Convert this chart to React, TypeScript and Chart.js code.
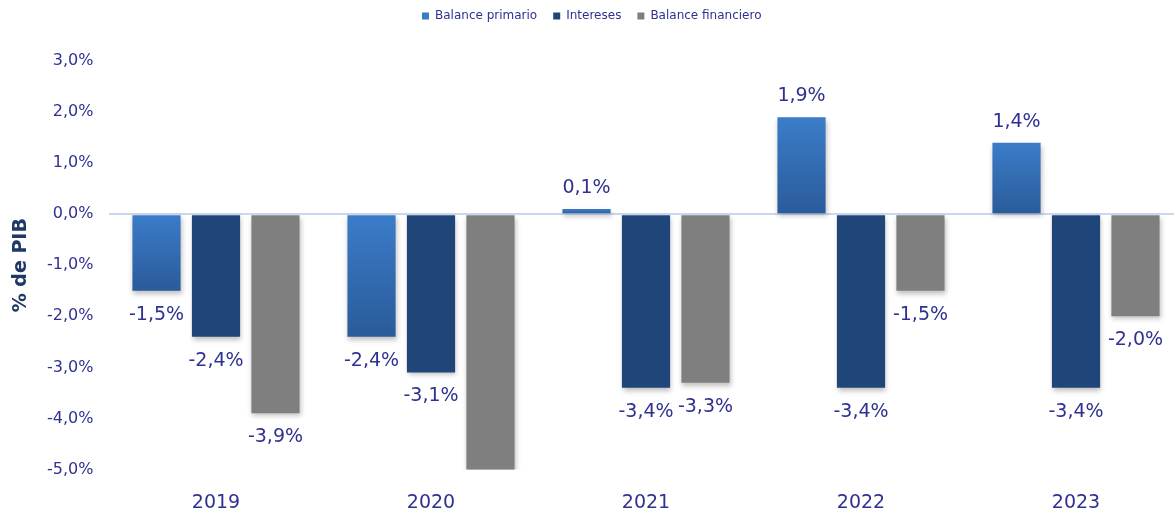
import React, { useEffect, useRef } from "react";
import { Chart, registerables } from "chart.js";

Chart.register(...registerables);

const categories = ["2019", "2020", "2021", "2022", "2023"];
const balancePrimario = [-1.5, -2.4, 0.1, 1.9, 1.4];
const intereses = [-2.4, -3.1, -3.4, -3.4, -3.4];
const balanceFinanciero = [-3.9, -5.5, -3.3, -1.5, -2.0];
const seriesNames = ["Balance primario", "Intereses", "Balance financiero"];
const yTicksMin = -5;
const yTicksMax = 3;

const TEXT = "#2e3192";
const FONT = "'DejaVu Sans'";

const fmt = (v: number) => v.toFixed(1).replace(".", ",") + "%";

export default function App() {
  const ref = useRef<HTMLCanvasElement>(null);

  useEffect(() => {
    if (!ref.current) return;

    const blueGradient = (ctx: any) => {
      const chart = ctx.chart;
      const { chartArea, scales } = chart;
      if (!chartArea || ctx.type !== "data" || !scales.y) return "#3575c2";
      const v = ctx.raw as number;
      const y0 = scales.y.getPixelForValue(0);
      const y1 = scales.y.getPixelForValue(v);
      const top = Math.min(y0, y1);
      const bot = Math.max(y0, y1) + 0.01;
      const g = chart.ctx.createLinearGradient(0, top, 0, bot);
      g.addColorStop(0, "#3b7cc9");
      g.addColorStop(1, "#2a5b9a");
      return g;
    };

    const legendSpace = {
      id: "legendSpace",
      beforeInit(chart: any) {
        const legend = chart.legend;
        if (!legend) return;
        const fit = legend.fit;
        legend.fit = function () {
          fit.call(this);
          this.height += 23;
        };
        const draw = legend.draw;
        legend.draw = function () {
          const c = this.ctx;
          c.save();
          c.translate(0, -6);
          draw.call(this);
          c.restore();
        };
      },
    };

    const shadowPlugin = {
      id: "barShadow",
      beforeDatasetsDraw(chart: any) {
        const c = chart.ctx;
        c.save();
        c.shadowColor = "rgba(0,0,0,0.25)";
        c.shadowBlur = 5;
        c.shadowOffsetX = 1;
        c.shadowOffsetY = 3;
      },
      afterDatasetsDraw(chart: any) {
        chart.ctx.restore();
      },
    };

    const labelPlugin = {
      id: "valueLabels",
      afterDraw(chart: any) {
        const c = chart.ctx;
        c.save();
        c.font = `19px ${FONT}`;
        c.fillStyle = TEXT;
        c.textAlign = "center";
        c.textBaseline = "middle";
        chart.data.datasets.forEach((ds: any, i: number) => {
          const meta = chart.getDatasetMeta(i);
          meta.data.forEach((el: any, j: number) => {
            const v = ds.data[j] as number;
            if (v < yTicksMin || v > yTicksMax) return;
            const y = v >= 0 ? el.y - 21 : el.y + 24;
            c.fillText(fmt(v), el.x, y);
          });
        });
        c.restore();
      },
    };

    const chart = new Chart(ref.current, {
      type: "bar",
      data: {
        labels: categories,
        datasets: [
          {
            label: seriesNames[0],
            data: balancePrimario,
            backgroundColor: blueGradient as any,
          },
          {
            label: seriesNames[1],
            data: intereses,
            backgroundColor: "#1f4579",
          },
          {
            label: seriesNames[2],
            data: balanceFinanciero,
            backgroundColor: "#7f7f7f",
          },
        ],
      },
      options: {
        responsive: false,
        animation: false,
        devicePixelRatio: 1,
        layout: { padding: { left: 0, right: 16.5, top: 0, bottom: 0 } },
        datasets: {
          bar: { categoryPercentage: 0.83, barPercentage: 0.81 },
        },
        plugins: {
          tooltip: { enabled: false },
          legend: {
            position: "top",
            labels: {
              boxWidth: 7,
              boxHeight: 7,
              padding: 16,
              color: TEXT,
              font: { family: FONT, size: 12 },
            },
          },
        },
        scales: {
          x: {
            grid: { display: false },
            border: { display: false },
            ticks: {
              color: TEXT,
              font: { family: FONT, size: 19 },
              padding: 14,
            },
            afterFit(scale: any) {
              scale.height = 38.5;
            },
          },
          y: {
            min: yTicksMin,
            max: yTicksMax,
            border: { display: false },
            grid: {
              drawTicks: false,
              lineWidth: 2,
              color: (ctx: any) =>
                ctx.tick && ctx.tick.value === 0 ? "#c9d7ef" : "rgba(0,0,0,0)",
            },
            ticks: {
              stepSize: 1,
              color: TEXT,
              font: { family: FONT, size: 16 },
              padding: 15,
              callback: (v: any) => fmt(Number(v)),
            },
            title: {
              display: true,
              text: "% de PIB",
              color: "#1f3864",
              font: { family: FONT, size: 19, weight: "bold" },
              padding: { top: 10, bottom: 0 },
            },
            afterFit(scale: any) {
              scale.width = 108.5;
            },
          },
        },
      },
      plugins: [legendSpace, shadowPlugin, labelPlugin],
    });

    return () => chart.destroy();
  }, []);

  return (
    <div
      style={{
        position: "fixed",
        left: 0,
        top: 0,
        width: 1174,
        height: 508,
        overflow: "hidden",
        background: "#fff",
      }}
    >
      <canvas ref={ref} width={1200} height={508} />
    </div>
  );
}
